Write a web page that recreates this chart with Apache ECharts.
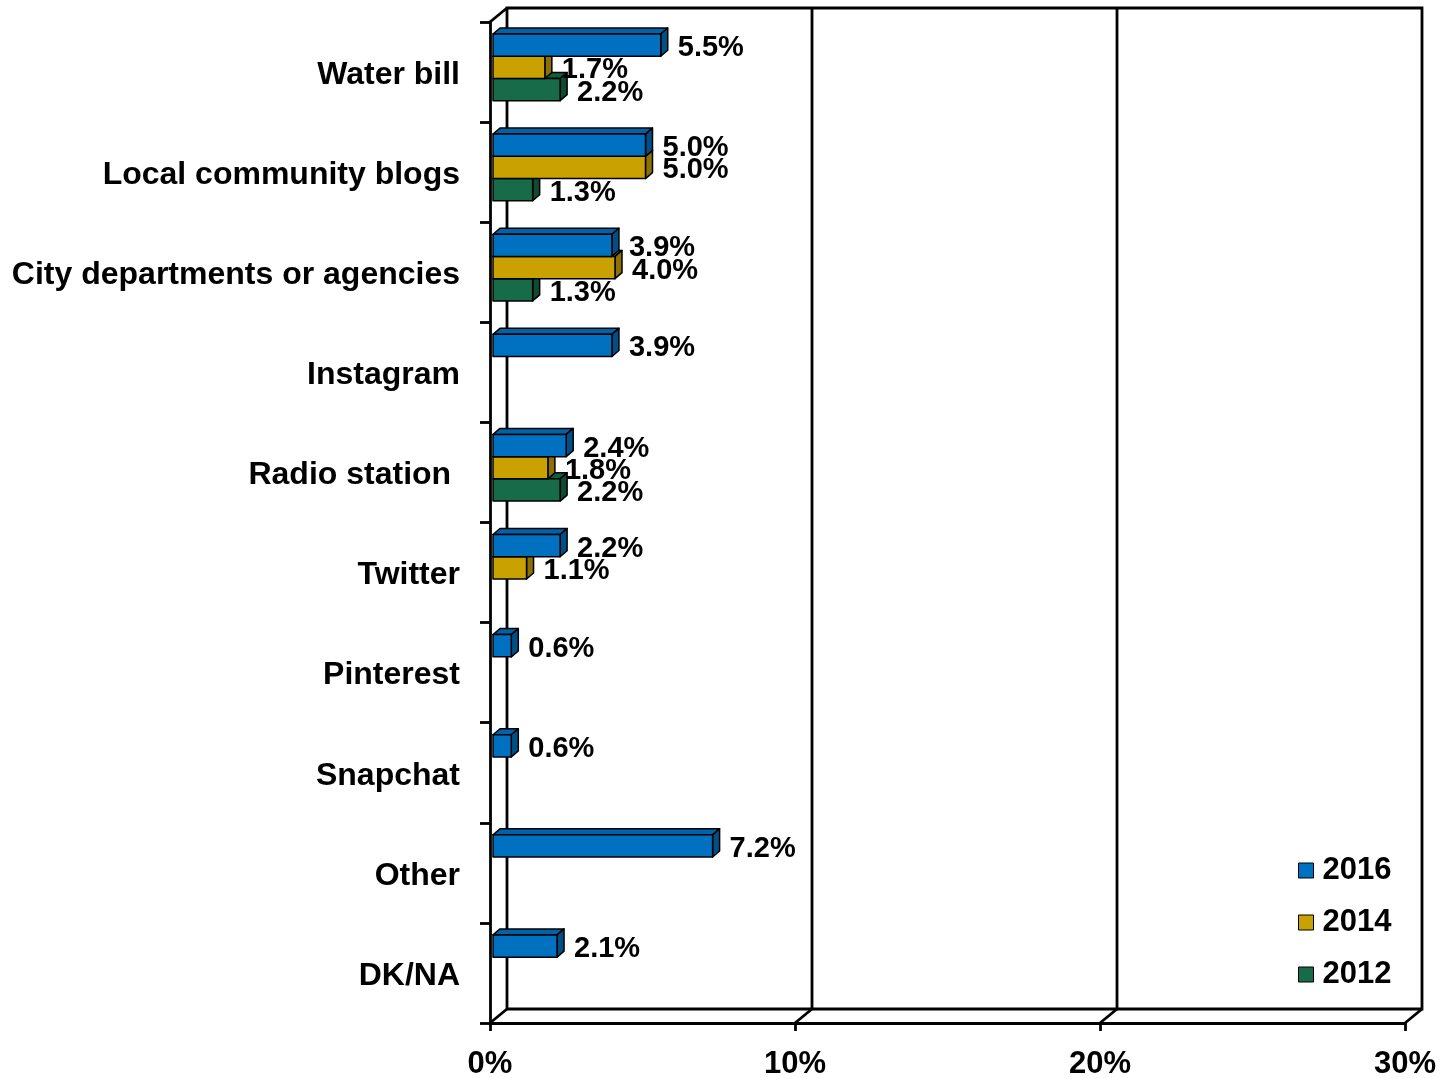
<!DOCTYPE html>
<html><head><meta charset="utf-8">
<script src="https://cdn.jsdelivr.net/npm/echarts@6/dist/echarts.min.js"></script>
<style>html,body{margin:0;padding:0;background:#fff}#c{width:1441px;height:1078px}</style>
</head><body><div id="c"></div>
<script>
const categories = ['Water bill','Local community blogs','City departments or agencies','Instagram','Radio station ','Twitter','Pinterest','Snapchat','Other','DK/NA'];
const years = ['2016','2014','2012'];
const v2016 = [5.5,5.0,3.9,3.9,2.4,2.2,0.6,0.6,7.2,2.1];
const v2014 = [1.7,5.0,4.0,null,1.8,1.1,null,null,null,null];
const v2012 = [2.2,1.3,1.3,null,2.2,null,null,null,null,null];
const xTicks = [0,10,20,30];

const FONT = '"Liberation Sans", Arial, sans-serif';
const faces = [
  {front:'#0070C0', top:'#0062A9', side:'#004F87'},
  {front:'#C9A100', top:'#B08D00', side:'#8C7000'},
  {front:'#186B48', top:'#145C3E', side:'#104A32'}
];
const DEPTH_X = 17, DEPTH_Y = -14; // wall depth
const BX = 7, BY = -6;             // bar depth

function barRenderer(k){
  return function(params, api){
    const val = api.value(0), cat = api.value(1);
    const c0 = api.coord([0, cat]);
    const c1 = api.coord([val, cat]);
    const band = api.size([0,1])[1];
    const h = band*0.222;
    const y0 = c0[1] - band/2 + band*(0.12 + 0.222*k);
    const y1 = y0 + h;
    const x0 = c0[0] + 3, x1 = c1[0] + 3;
    const f = faces[k];
    const st = {stroke:'#000', lineWidth:1.5, lineJoin:'round'};
    return {type:'group', children:[
      {type:'polygon', shape:{points:[[x0,y0],[x0+BX,y0+BY],[x1+BX,y0+BY],[x1,y0]]}, style:Object.assign({fill:f.top}, st)},
      {type:'polygon', shape:{points:[[x1,y0],[x1+BX,y0+BY],[x1+BX,y1+BY],[x1,y1]]}, style:Object.assign({fill:f.side}, st)},
      {type:'rect', shape:{x:x0,y:y0,width:x1-x0,height:h}, style:Object.assign({fill:f.front}, st)},
      {type:'text', z2:100, style:{text:val.toFixed(1)+'%', x:x1+17, y:(y0+y1)/2+3, verticalAlign:'middle', align:'left',
        font:'bold 29px '+FONT, fill:'#000'}}
    ]};
  };
}

function frameRender(params, api){
  const cs = params.coordSys;
  const x = cs.x, y = cs.y, w = cs.width, h = cs.height;
  const ln = {stroke:'#000', lineWidth:2.8};
  const ch = [];
  ch.push({type:'rect', shape:{x:x+DEPTH_X, y:y+DEPTH_Y, width:w, height:h}, style:{fill:'none', stroke:'#000', lineWidth:2.8}});
  ch.push({type:'line', shape:{x1:x, y1:y, x2:x+DEPTH_X, y2:y+DEPTH_Y}, style:ln});
  xTicks.forEach(t => {
    const px = api.coord([t, 0])[0];
    ch.push({type:'line', shape:{x1:px, y1:y+h, x2:px+DEPTH_X, y2:y+h+DEPTH_Y}, style:ln});
    if (t > xTicks[0] && t < xTicks[xTicks.length-1])
      ch.push({type:'line', shape:{x1:px+DEPTH_X, y1:y+DEPTH_Y, x2:px+DEPTH_X, y2:y+h+DEPTH_Y}, style:ln});
  });
  return {type:'group', children:ch};
}

function toData(arr){ const d=[]; arr.forEach((v,i)=>{ if(v!=null) d.push([v,i]); }); return d; }

const chart = echarts.init(document.getElementById('c'));
chart.setOption({
  animation:false,
  backgroundColor:'#fff',
  grid:{left:490, right:36, top:22, bottom:55, outerBoundsMode:'none', containLabel:false},
  legend:{
    data:years, orient:'vertical', left:1298, top:855, itemGap:21, padding:0,
    itemWidth:15, itemHeight:15, icon:'rect',
    itemStyle:{borderColor:'#000', borderWidth:1},
    textStyle:{fontFamily:FONT, fontWeight:'bold', fontSize:31, color:'#000', lineHeight:31, padding:[0,0,0,4]}
  },
  xAxis:{
    type:'value', min:0, max:30, interval:10,
    axisLine:{show:true, lineStyle:{color:'#000', width:2.8}},
    axisTick:{show:true, length:8, lineStyle:{color:'#000', width:2.8}},
    splitLine:{show:false},
    axisLabel:{formatter:'{value}%', fontFamily:FONT, fontWeight:'bold', fontSize:31, color:'#000', margin:26}
  },
  yAxis:{
    type:'category', data:categories, inverse:true,
    axisLine:{show:true, lineStyle:{color:'#000', width:2.8}},
    axisTick:{show:true, length:10, lineStyle:{color:'#000', width:2.8}},
    axisLabel:{fontFamily:FONT, fontWeight:'bold', fontSize:32, color:'#000', margin:30, verticalAlign:'top', lineHeight:6}
  },
  series:[
    {type:'custom', name:'frame', renderItem:frameRender, data:[[0,0]], z:1, silent:true, encode:{x:0,y:1}},
    {type:'custom', name:'2016', renderItem:barRenderer(0), data:toData(v2016), encode:{x:0,y:1}, z:6, itemStyle:{color:faces[0].front}},
    {type:'custom', name:'2014', renderItem:barRenderer(1), data:toData(v2014), encode:{x:0,y:1}, z:5, itemStyle:{color:faces[1].front}},
    {type:'custom', name:'2012', renderItem:barRenderer(2), data:toData(v2012), encode:{x:0,y:1}, z:4, itemStyle:{color:faces[2].front}}
  ]
});
</script></body></html>
